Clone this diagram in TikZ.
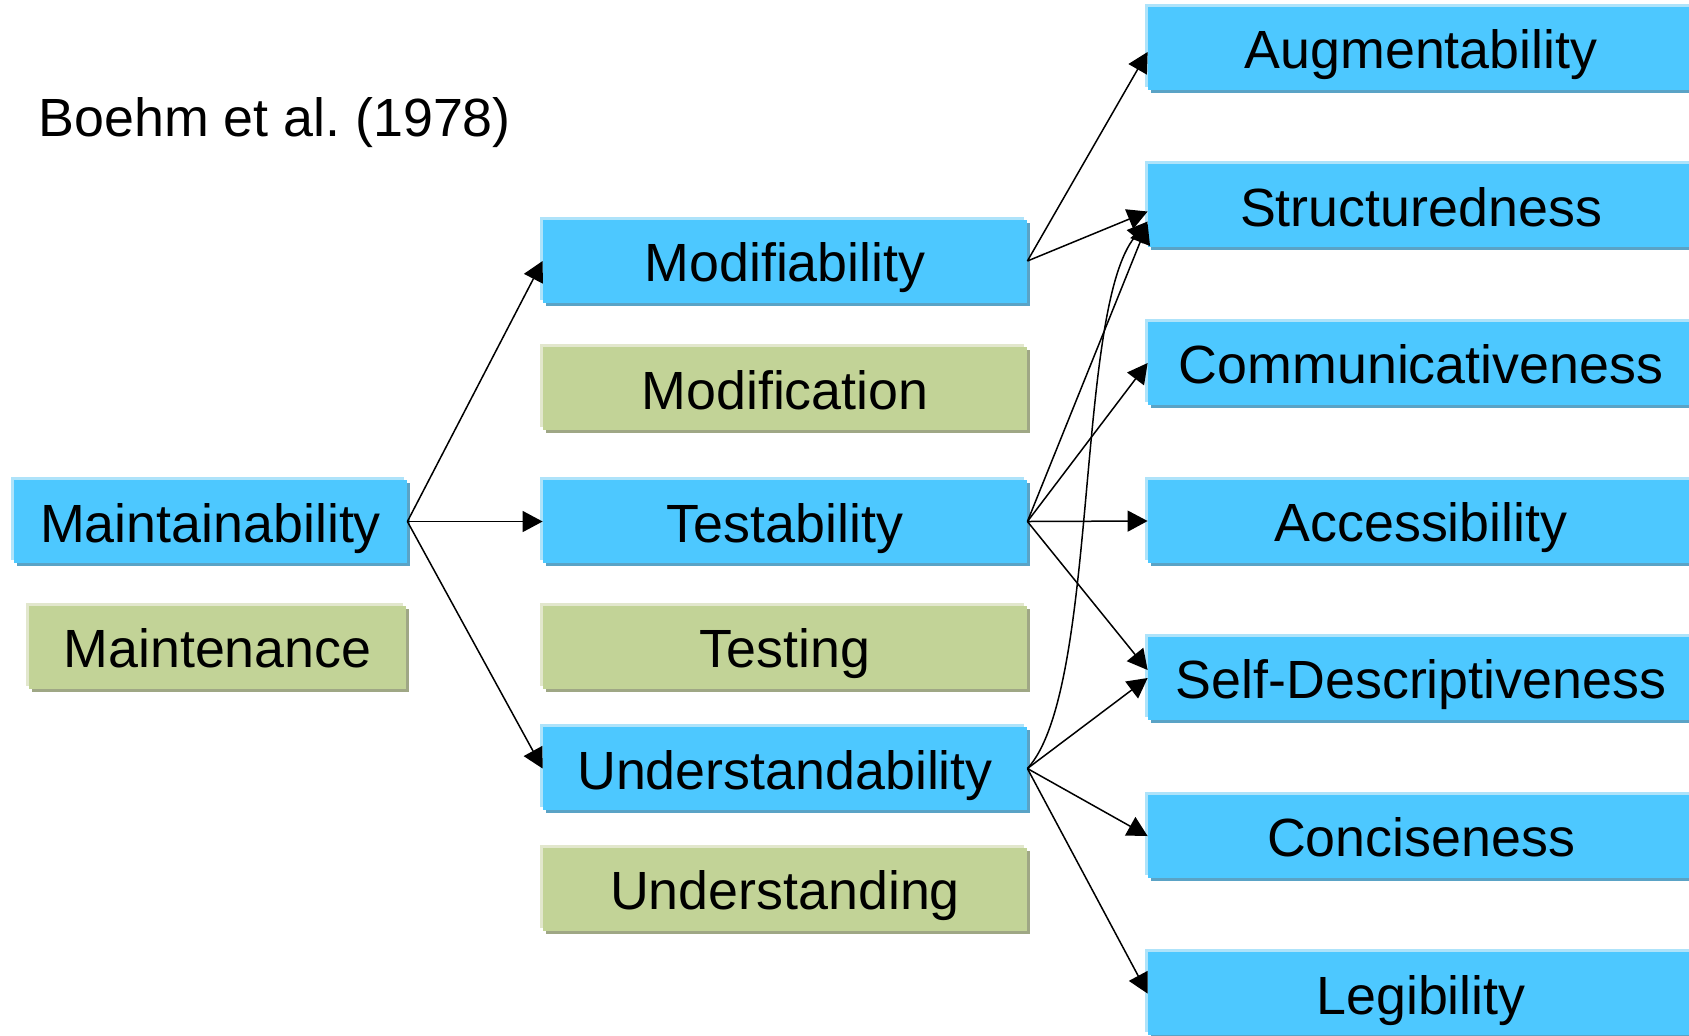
\documentclass[tikz,border=0pt]{standalone}
\usepackage{fontspec}
\setmainfont{Liberation Sans}
\usetikzlibrary{arrows.meta,shadows}
\definecolor{bfill}{HTML}{4DC8FF}
\definecolor{blight}{HTML}{AEE3FA}
\definecolor{bshadow}{HTML}{5AA3C6}
\definecolor{gfill}{HTML}{C2D397}
\definecolor{glight}{HTML}{E2E7CD}
\definecolor{gshadow}{HTML}{9FA785}
\frenchspacing
\begin{document}
\begin{tikzpicture}[x=0.5pt,y=-0.5pt,
  box/.style={inner sep=0pt, minimum height=41.5pt, text height=20.5pt, text depth=0pt,
    font=\fontsize{26.9}{30}\selectfont, anchor=center},
  bluebox/.style={box, fill=bfill,
    general shadow={shadow xshift=-1.5pt, shadow yshift=1.5pt, fill=blight},
    general shadow={shadow xshift=1.5pt, shadow yshift=-1.5pt, fill=bshadow}},
  greenbox/.style={box, fill=gfill,
    general shadow={shadow xshift=-1.5pt, shadow yshift=1.5pt, fill=glight},
    general shadow={shadow xshift=1.5pt, shadow yshift=-1.5pt, fill=gshadow}},
  leftw/.style={minimum width=196.5pt},
  midw/.style={minimum width=242pt},
  rightw/.style={minimum width=273pt},
  arr/.style={-{Triangle[length=10pt,width=10.5pt]}, line width=0.75pt}
]
\useasboundingbox (0,0) rectangle (1689,1035);

\node[anchor=base west, inner sep=0pt, font=\fontsize{26.9}{30}\selectfont] (title) at (38,136) {Boehm et al. (1978)};

\node[bluebox, leftw] (mta) at (210.5,521.5) {Maintainability};
\node[greenbox, minimum width=188.5pt] (mtn) at (217.5,647) {Maintenance};

\node[bluebox, midw] (mod) at (785,261) {Modifiability};
\node[greenbox, midw] (mdn) at (785,388.5) {Modification};
\node[bluebox, midw] (tst) at (785,521.5) {Testability};
\node[greenbox, midw] (tsg) at (785,647) {Testing};
\node[bluebox, midw] (und) at (785,768.5) {Understandability};
\node[greenbox, midw] (ung) at (785,889) {Understanding};

\node[bluebox, rightw] (aug) at (1421,48) {Augmentability};
\node[bluebox, rightw] (str) at (1421,205.5) {Structuredness};
\node[bluebox, rightw] (com) at (1421,363) {Communicativeness};
\node[bluebox, rightw] (acc) at (1421,521) {Accessibility};
\node[bluebox, rightw] (sel) at (1421,678) {Self-Descriptiveness};
\node[bluebox, rightw] (con) at (1421,836) {Conciseness};
\node[bluebox, rightw] (leg) at (1421,993.5) {Legibility};

\draw[arr] (mta.east) -- (mod.west);
\draw[arr] (mta.east) -- (tst.west);
\draw[arr] (mta.east) -- (und.west);

\draw[arr] (mod.east) -- ([yshift=-2pt]aug.west);
\draw[arr] (mod.east) -- ([yshift=-3pt]str.west);

\draw[arr] (tst.east) -- ([yshift=-9pt]str.west);
\draw[arr] (tst.east) -- (com.west);
\draw[arr] (tst.east) -- (acc.west);
\draw[arr] (tst.east) -- ([yshift=4pt]sel.west);

\draw[arr] (und.east) .. controls +(72,-78) and +(-73,88) .. ([yshift=-8pt]str.west);
\draw[arr] (und.east) -- (sel.west);
\draw[arr] (und.east) -- (con.west);
\draw[arr] (und.east) -- (leg.west);
\end{tikzpicture}
\end{document}
